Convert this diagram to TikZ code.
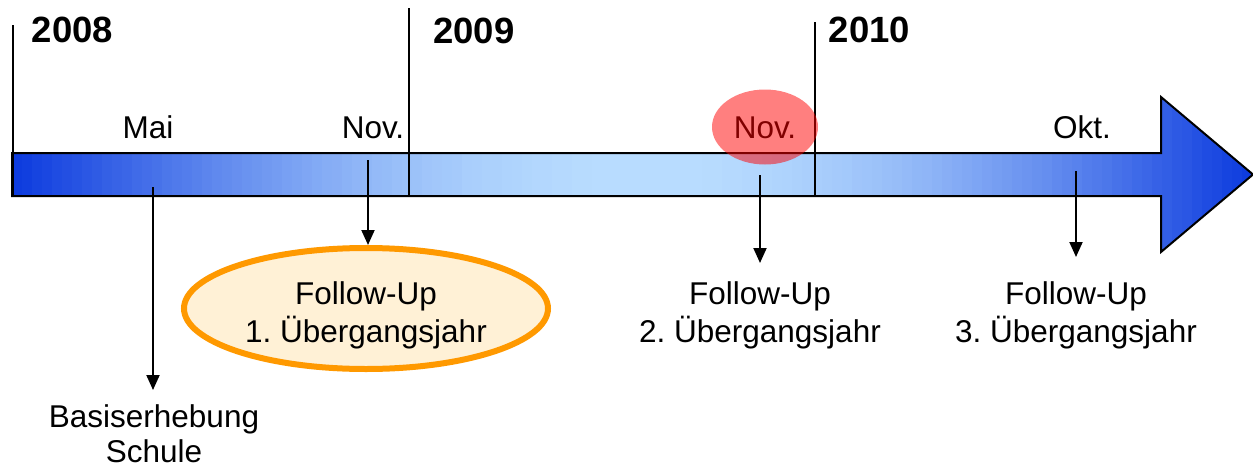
\documentclass[tikz,border=0pt]{standalone}
\usepackage{fontspec}
\setmainfont{Liberation Sans}
\usetikzlibrary{arrows.meta,shapes.geometric}
\definecolor{bluedark}{RGB}{12,58,222}
\definecolor{bluelight}{RGB}{186,222,255}
\definecolor{orangeline}{RGB}{255,153,0}
\definecolor{orangefill}{RGB}{255,241,214}
\tikzset{
  yearlabel/.style={font=\fontsize{36.5}{40}\selectfont\bfseries, anchor=base, inner sep=0pt},
  monthlabel/.style={font=\fontsize{31.5}{36}\selectfont, anchor=base, inner sep=0pt},
  eventlabel/.style={font=\fontsize{31.5}{38}\selectfont\frenchspacing, align=center, anchor=north, inner sep=0pt},
  divider/.style={line width=2pt},
  connector/.style={line width=2pt, -{Triangle[length=15pt,width=13pt]}},
}
\begin{document}
\begin{tikzpicture}[x=1pt,y=-1pt]
\useasboundingbox (0,0) rectangle (1253,466);
% timeline arrow with gradient
\begin{scope}
  \clip (12,153) -- (1161,153) -- (1161,97) -- (1253,174.5) -- (1161,252) -- (1161,196) -- (12,196) -- cycle;
  \foreach \i in {0,...,124} {
    \pgfmathsetmacro\xx{12+\i*10}
    \pgfmathsetmacro\tt{\xx<650 ? (\xx+5-12)/638 : (1253-\xx-5)/603}
    \pgfmathtruncatemacro\pp{100*sin(90*\tt)}
    \fill[bluelight!\pp!bluedark] (\xx,90) rectangle ++(10.8,170);
  }
\end{scope}
\draw[line width=2pt, line join=miter]
  (12,153) -- (1161,153) -- (1161,97) -- (1253,174.5) -- (1161,252) -- (1161,196) -- (12,196) -- cycle;
% year dividers
\coordinate (d1t) at (13,25);  \coordinate (d1b) at (13,196);
\coordinate (d2t) at (409,8);  \coordinate (d2b) at (409,196);
\coordinate (d3t) at (815,22); \coordinate (d3b) at (815,196);
\draw[divider] (d1t) -- (d1b);
\draw[divider] (d2t) -- (d2b);
\draw[divider] (d3t) -- (d3b);
% years
\node[yearlabel] (y2008) at (72.5,42) {2008};
\node[yearlabel] (y2009) at (474,43) {2009};
\node[yearlabel] (y2010) at (869.5,42) {2010};
% months
\node[monthlabel] (mai) at (148,138) {Mai};
\node[monthlabel] (nov1) at (373,138) {Nov.};
\node[monthlabel] (nov2) at (765,138) {Nov.};
\node[monthlabel] (okt) at (1082,138) {Okt.};
% highlight on Nov. 2009
\node[ellipse, fill=red, fill opacity=0.5, minimum width=106pt, minimum height=75pt, inner sep=0pt] (hl) at (765,127) {};
% connector start points
\coordinate (cmai) at (153,187);
\coordinate (cnov1) at (368,160);
\coordinate (cnov2) at (760,175);
\coordinate (cokt) at (1076,171);
% events
\node[ellipse, draw=orangeline, fill=orangefill, line width=6pt, minimum width=364pt, minimum height=121pt, inner sep=0pt] (e1) at (366,308.5) {};
\node[eventlabel] (fu1) at (366,281) {Follow-Up\\1. Übergangsjahr};
\node[eventlabel] (fu2) at (760,281) {Follow-Up\\2. Übergangsjahr};
\node[eventlabel] (fu3) at (1076,281) {Follow-Up\\3. Übergangsjahr};
\node[eventlabel, font=\fontsize{31.5}{35.5}\selectfont] (basis) at (154,404) {Basiserhebung\\Schule};
% connectors
\draw[connector, shorten >=14pt] (cmai) -- (cmai |- basis.north);
\draw[connector] (cnov1) -- (cnov1 |- e1.north);
\draw[connector, shorten >=18pt] (cnov2) -- (fu2.north);
\draw[connector, shorten >=24pt] (cokt) -- (fu3.north);
\end{tikzpicture}
\end{document}
